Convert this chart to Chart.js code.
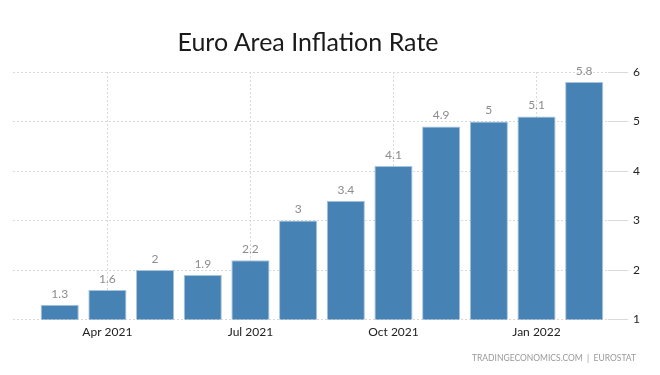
<!DOCTYPE html>
<html>
<head>
<meta charset="utf-8">
<script src="https://cdn.jsdelivr.net/npm/chart.js@4/dist/chart.umd.min.js"></script>
<style>
  html, body { margin: 0; padding: 0; background: #fff; }
  #wrap { position: relative; width: 660px; height: 375px; }
  #titulo {
    position: absolute; left: 0; top: 26px; width: 616px;
    text-align: center; font: normal 25px/30px Lato; color: #1a1a1a;
  }
  #fuente {
    position: absolute; right: 24px; top: 352px;
    font: normal 8.5px/12px Lato; color: #999; white-space: pre;
  }
</style>
</head>
<body>
<div id="wrap">
  <div id="titulo">Euro Area Inflation Rate</div>
  <canvas id="grafica"></canvas>
  <div id="fuente">TRADINGECONOMICS.COM  |  EUROSTAT</div>
</div>
<script>
// datos
const months = ['Mar 2021', 'Apr 2021', 'May 2021', 'Jun 2021', 'Jul 2021', 'Aug 2021',
                'Sep 2021', 'Oct 2021', 'Nov 2021', 'Dec 2021', 'Jan 2022', 'Feb 2022'];
const inflation = [1.3, 1.6, 2, 1.9, 2.2, 3, 3.4, 4.1, 4.9, 5, 5.1, 5.8];
const xTickIdx = [1, 4, 7, 10];
const yTicks = [1, 2, 3, 4, 5, 6];

// etiquetas encima de las barras
const valueLabels = {
  id: 'valueLabels',
  afterDatasetsDraw(chart) {
    const ctx = chart.ctx;
    const meta = chart.getDatasetMeta(0);
    ctx.save();
    ctx.font = '12px Lato';
    ctx.fillStyle = '#8c8c8c';
    ctx.textAlign = 'center';
    ctx.textBaseline = 'bottom';
    meta.data.forEach((bar, i) => {
      ctx.fillText(String(inflation[i]), bar.x, bar.y - 5);
    });
    ctx.restore();
  }
};

const grafica = document.getElementById('grafica');

new Chart(grafica, {
  type: 'bar',
  data: {
    datasets: [{
      label: 'Inflation Rate',
      data: inflation.map((v, i) => ({ x: i, y: v })),
      backgroundColor: '#4682b4',
      borderColor: '#a9c4dd',
      borderWidth: 1,
      barPercentage: 0.8,
      categoryPercentage: 1.0
    }]
  },
  options: {
    responsive: true,
    maintainAspectRatio: false,
    animation: false,
    layout: { padding: { left: 13, right: 15, top: 72, bottom: 31 } },
    plugins: {
      legend: { display: false },
      tooltip: { enabled: false }
    },
    scales: {
      x: {
        type: 'linear',
        offset: false,
        min: -0.98,
        max: 11.5,
        afterBuildTicks: (s) => { s.ticks = xTickIdx.map(v => ({ value: v })); },
        ticks: {
          callback: (v) => months[v],
          color: '#222',
          font: { family: 'Lato', size: 12 },
          padding: 5,
          maxRotation: 0
        },
        grid: { color: '#d9d9d9', drawTicks: false, offset: false },
        border: { display: false, dash: [2, 2] }
      },
      y: {
        position: 'right',
        min: 1,
        max: 6,
        afterBuildTicks: (s) => { s.ticks = yTicks.map(v => ({ value: v })); },
        ticks: {
          color: '#222',
          font: { family: 'Lato', size: 12 },
          padding: 5
        },
        grid: { color: '#d9d9d9', tickLength: 20 },
        border: { display: false, dash: [2, 2] }
      }
    }
  },
  plugins: [valueLabels]
});
</script>
</body>
</html>
